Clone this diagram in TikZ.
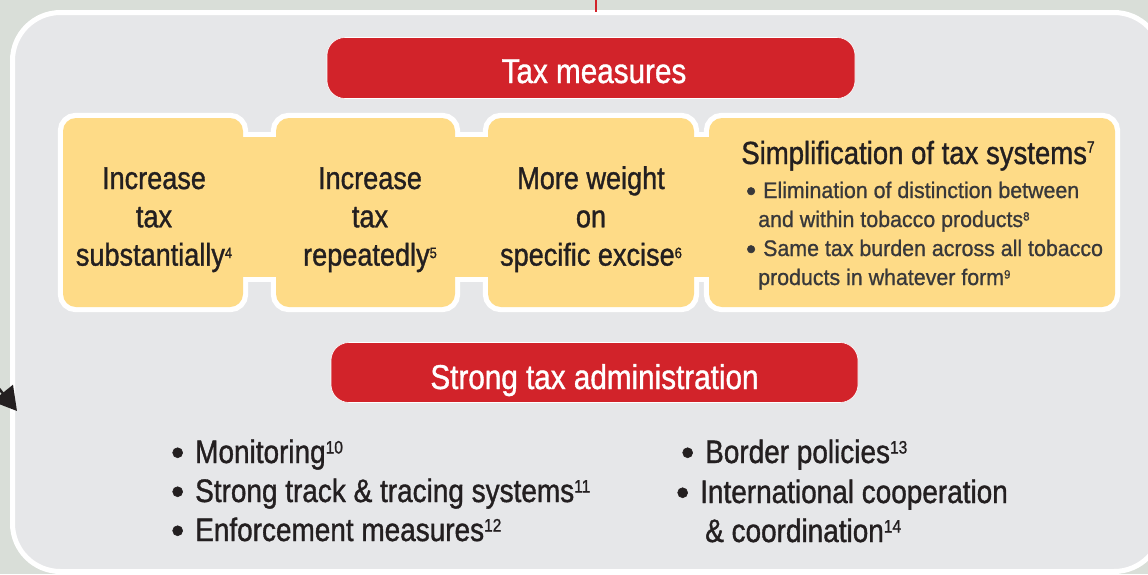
\documentclass[tikz,border=0pt]{standalone}
\usepackage{fontspec}
\setmainfont{Liberation Sans}
\newfontfamily\cond{Liberation Sans}[FakeStretch=0.86,FakeBold=1.1]
\newfontfamily\semi{Liberation Sans}[FakeStretch=0.95,FakeBold=0.9]
\newfontfamily\bulfont{Liberation Sans}[FakeBold=1.5]
\usetikzlibrary{arrows.meta}
\definecolor{bgc}{HTML}{D9DED8}
\definecolor{panelc}{HTML}{E6E7E9}
\definecolor{yel}{HTML}{FEDB87}
\definecolor{redc}{HTML}{D2232A}
\definecolor{ink}{HTML}{231F20}
\definecolor{ink2}{HTML}{38383A}
\pgfdeclarelayer{background}
\pgfdeclarelayer{mid}
\pgfsetlayers{background,mid,main}
\newcommand{\fn}[3]{\raisebox{#2pt}{\fontsize{#1}{#1}\selectfont #3}}
% bullet: box width, bullet size, lowering
\newcommand{\bul}[3]{\makebox[#1pt][l]{\smash{\raisebox{-#3pt}{\bulfont\fontsize{#2}{#2}\selectfont •}}}}
\begin{document}
\begin{tikzpicture}[x=1pt,y=-1pt,
  ybox/.style={fill=yel, rounded corners=13pt, draw=none, inner sep=0pt, minimum height=189pt},
  banner/.style={fill=redc, draw=white, line width=0.6pt, rounded corners=18pt, inner sep=0pt},
  btext/.style={font=\cond\fontsize{31.5}{38}\selectfont, text=ink, anchor=base, inner sep=0pt},
  wtext/.style={font=\cond\fontsize{34.5}{40}\selectfont, text=white, anchor=base, inner sep=0pt},
  ttext/.style={font=\cond\fontsize{32}{38}\selectfont, text=ink, anchor=base, inner sep=0pt},
  stext/.style={font=\semi\fontsize{22.5}{28}\selectfont, text=ink2, anchor=base west, inner sep=0pt},
  ltext/.style={font=\cond\fontsize{32.5}{39}\selectfont, text=ink, anchor=base west, inner sep=0pt}]
\useasboundingbox (0,0) rectangle (1148,574);

% yellow boxes
\node[ybox, minimum width=180pt] (b1) at (153,212.5) {};
\node[ybox, minimum width=179pt] (b2) at (365.5,212.5) {};
\node[ybox, minimum width=206pt] (b3) at (591,212.5) {};
\node[ybox, minimum width=406pt] (b4) at (912,212.5) {};

% red banners
\node[banner, minimum width=528pt, minimum height=61pt] (tm) at (591,68) {};
\node[wtext] (tmt) at (594,83) {Tax measures};
\node[banner, minimum width=527pt, minimum height=60pt] (sa) at (594.5,372.5) {};
\node[wtext] (sat) at (594.5,389) {Strong tax administration};

% box texts
\node[btext] (b1a) at (154,189) {Increase};
\node[btext] (b1b) at (154,227.3) {tax};
\node[btext] (b1c) at (154,265.6) {substantially\fn{15}{7.5}{4}};
\node[btext] (b2a) at (370,189) {Increase};
\node[btext] (b2b) at (370,227.3) {tax};
\node[btext] (b2c) at (370,265.6) {repeatedly\fn{15}{7.5}{5}};
\node[btext] (b3a) at (591,189) {More weight};
\node[btext] (b3b) at (591,227.3) {on};
\node[btext] (b3c) at (591,265.6) {specific excise\fn{15}{7.5}{6}};

\node[ttext] (b4t) at (918,164) {Simplification of tax systems\fn{16}{11.5}{7}};
\node[stext] (b4a) at (746,198) {\bul{17}{28}{2.5}Elimination of distinction between};
\node[stext] (b4b) at (758,227) {and within tobacco products\fn{12}{6.5}{8}};
\node[stext] (b4c) at (746,256) {\bul{17}{28}{2.5}Same tax burden across all tobacco};
\node[stext] (b4d) at (758,285) {products in whatever form\fn{12}{6.5}{9}};

% lower lists
\node[ltext] (m1) at (171,463) {\bul{24}{37}{2}Monitoring\fn{18}{9.5}{10}};
\node[ltext] (m2) at (171,502) {\bul{24}{37}{2}Strong track \& tracing systems\fn{18}{9.5}{11}};
\node[ltext] (m3) at (171,541) {\bul{24}{37}{2}Enforcement measures\fn{18}{9.5}{12}};
\node[ltext] (r1) at (681,463) {\bul{24}{37}{2}Border policies\fn{18}{9.5}{13}};
\node[ltext] (r2) at (676,503) {\bul{24}{37}{2}International cooperation};
\node[ltext] (r3) at (705,542) {\& coordination\fn{18}{9.5}{14}};

\coordinate (topsrc) at (596,0);
\coordinate (topdst) at (596,12);
\coordinate (arrsrc) at (-40,340);
\coordinate (arrtip) at (17,411);

\begin{pgfonlayer}{background}
  \fill[bgc] (0,0) rectangle (1148,574);
  \draw[white, line width=5pt, fill=panelc, rounded corners=48pt] (12.5,12.5) rectangle (1162,571.5);
  \draw[redc, line width=2.5pt] (topsrc) -- (topdst);
  \draw[ink, line width=2.5pt, -{Triangle[length=23pt,width=26pt]}] (arrsrc) -- (arrtip);
  \foreach \n in {b1,b2,b3,b4}
    \draw[white, line width=10pt, rounded corners=13pt] (\n.north west) rectangle (\n.south east);
  \fill[white] ([yshift=80.5pt]b1.east) rectangle ([yshift=-69.5pt]b2.west);
  \fill[white] ([yshift=80.5pt]b2.east) rectangle ([yshift=-69.5pt]b3.west);
  \fill[white] ([yshift=80.5pt]b3.east) rectangle ([yshift=-69.5pt]b4.west);
\end{pgfonlayer}
\begin{pgfonlayer}{mid}
  \fill[yel] ([xshift=-15pt,yshift=75.5pt]b1.east) rectangle ([xshift=15pt,yshift=-64.5pt]b2.west);
  \fill[yel] ([xshift=-15pt,yshift=75.5pt]b2.east) rectangle ([xshift=15pt,yshift=-64.5pt]b3.west);
  \fill[yel] ([xshift=-15pt,yshift=75.5pt]b3.east) rectangle ([xshift=15pt,yshift=-64.5pt]b4.west);
\end{pgfonlayer}
\end{tikzpicture}
\end{document}
